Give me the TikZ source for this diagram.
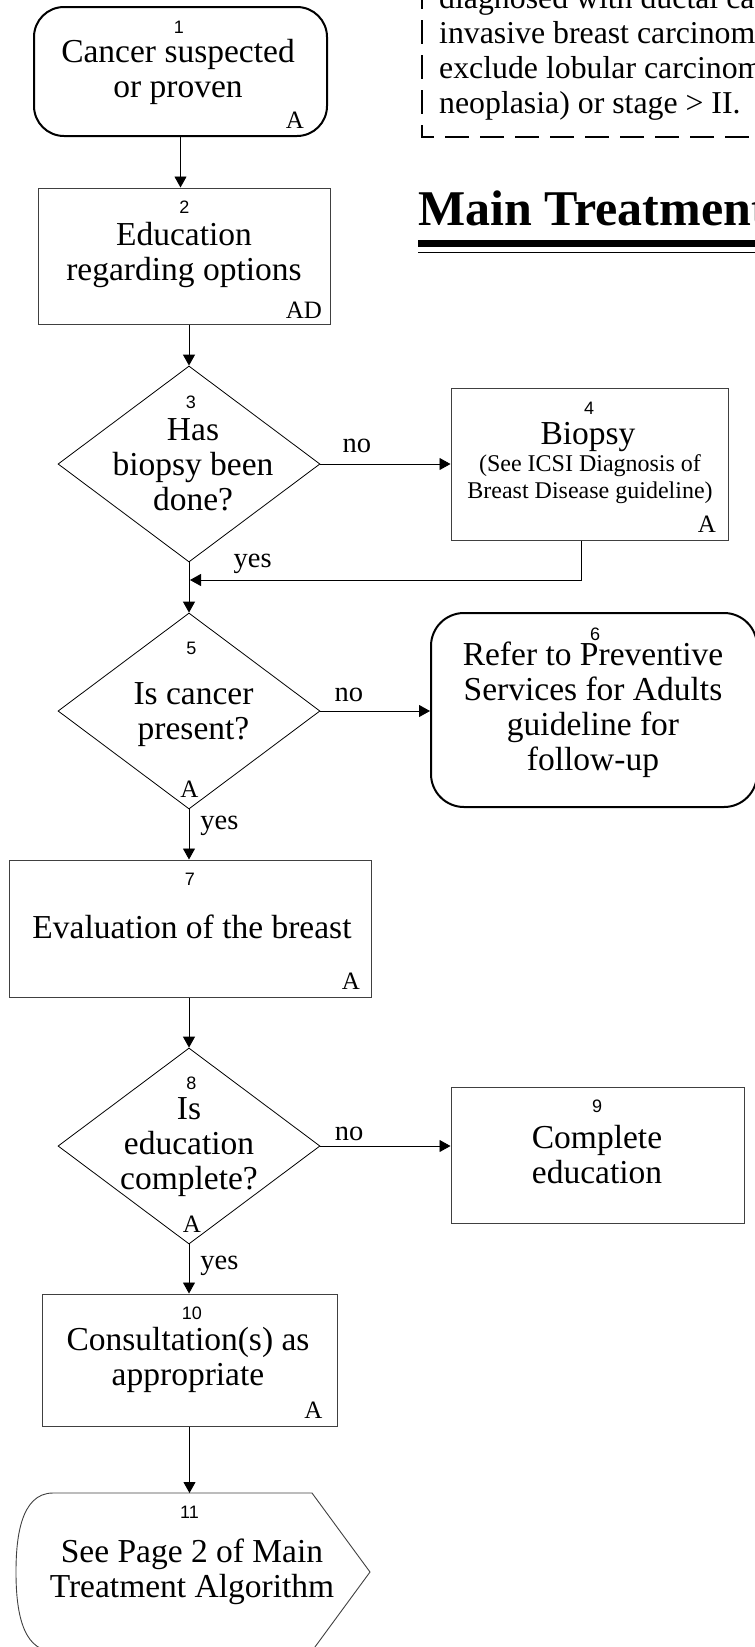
\documentclass[tikz,border=0pt]{standalone}
\usepackage{fontspec}
\setmainfont{Liberation Serif}
\setsansfont{Liberation Sans}
\usetikzlibrary{shapes.geometric}
\usetikzlibrary{arrows.meta}

\newcommand{\flowtext}{\fontsize{33.5}{35}\selectfont}
\newcommand{\flowsmall}{\fontsize{24}{27}\selectfont}
\newcommand{\flownum}{\sffamily\fontsize{18}{20}\selectfont}
\newcommand{\flowlab}{\fontsize{28.5}{30}\selectfont}
\newcommand{\flowcorner}{\fontsize{25}{28}\selectfont}
\newcommand{\flowtitle}{\bfseries\fontsize{50}{56}\selectfont}
\newcommand{\notesize}{\fontsize{31.8}{35}\selectfont}

\tikzset{
  terminal/.style={draw, line width=2pt, rectangle, rounded corners=30pt, inner sep=0pt},
  process/.style={draw=black!75, line width=1pt, rectangle, inner sep=0pt},
  decision/.style={draw, line width=0.8pt, diamond, inner sep=0pt, minimum width=262pt, minimum height=196pt},
  offpage/.style={draw=black!75, line width=0.9pt},
  bodytxt/.style={inner sep=0pt, align=center, font=\flowtext},
  smalltxt/.style={inner sep=0pt, align=center, font=\flowsmall},
  numtxt/.style={inner sep=0pt, font=\flownum},
  cornertxt/.style={inner sep=0pt, font=\flowcorner},
  labtxt/.style={inner sep=0pt, font=\flowlab},
  notetxt/.style={inner sep=0pt, align=left, font=\notesize},
  titletxt/.style={inner sep=0pt, font=\flowtitle},
  notebox/.style={line width=2pt, dash pattern=on 24pt off 11pt, dash phase=10pt},
  flowarrow/.style={line width=0.9pt, -{Triangle[length=11pt, width=12pt]}},
}

\begin{document}
\begin{tikzpicture}[x=1pt, y=-1pt]
    \useasboundingbox (0,0) rectangle (755,1647);
    \clip (0,0) rectangle (755,1647);

    % note and heading, top right
    \draw[notebox] (422,-40) -- (422,137) -- (790,137);
    \node(note) [notetxt, anchor=south west] at (439,121) {diagnosed with ductal ca\\invasive breast carcinom\\exclude lobular carcinom\\neoplasia) or stage > II.};

    \node(title) [titletxt, anchor=base west] at (418,225) {Main Treatment};
    \draw[line width=7pt] (418,243.5) -- (790,243.5);
    \draw[line width=1pt] (418,252) -- (790,252);

    % 1
    \node(b1) [terminal, minimum width=293pt, minimum height=129pt] at (180.5,71.5) {};
    \node(n1) [numtxt] at (179,27.5) {1};
    \node(t1) [bodytxt] at (178,71.5) {Cancer suspected\\or proven};
    \node(a1) [cornertxt] at (295,120) {A};

    % 2
    \node(b2) [process, minimum width=292pt, minimum height=136pt] at (184,256) {};
    \node(n2) [numtxt] at (184.5,207.5) {2};
    \node(t2) [bodytxt] at (184,254.5) {Education\\regarding options};
    \node(a2) [cornertxt] at (304,310) {AD};
    \draw[flowarrow] (b1.south) -- (b1.south |- b2.north);

    % 3
    \node(d3) [decision] at (189,464) {};
    \node(n3) [numtxt] at (191,402.5) {3};
    \node(t3) [bodytxt] at (193,465) {Has\\biopsy been\\done?};
    \draw[flowarrow] (d3.north |- b2.south) -- (d3.north);

    % 4
    \node(b4) [process, minimum width=277pt, minimum height=152pt] at (589.5,464) {};
    \node(n4) [numtxt] at (589,408.5) {4};
    \node(t4) [bodytxt] at (588,437) {Biopsy};
    \node(s4) [smalltxt] at (590,479.5) {(See ICSI Diagnosis of\\Breast Disease guideline)};
    \node(a4) [cornertxt] at (707,524.5) {A};
    \draw[flowarrow] (d3.east) -- (b4.west) node [labtxt, pos=0.28, above=11pt] {no};

    \coordinate(j3) at (190,580);
    \draw[flowarrow] ([xshift=-8pt]b4.south) |- (j3) node [labtxt, pos=0.92, above=6pt] {yes};

    % 5
    \node(d5) [decision] at (189,711) {};
    \node(n5) [numtxt] at (191.5,648.5) {5};
    \node(t5) [bodytxt] at (193.5,714.5) {Is cancer\\present?};
    \node(a5) [cornertxt] at (189.5,789.5) {A};
    \draw[flowarrow] (d3.south) -- (d5.north);

    % 6
    \node(b6) [terminal, rounded corners=33pt, minimum width=326pt, minimum height=194pt] at (594,710) {};
    \node(n6) [numtxt] at (595,634.5) {6};
    \node(t6) [bodytxt] at (593,710) {Refer to Preventive\\Services for Adults\\guideline for\\follow-up};
    \draw[flowarrow] (d5.east) -- (d5.east -| b6.west) node [labtxt, pos=0.26, above=9pt] {no};

    % 7
    \node(b7) [process, minimum width=362pt, minimum height=137pt] at (190,928.5) {};
    \node(n7) [numtxt] at (190,879.5) {7};
    \node(t7) [bodytxt] at (192,927) {Evaluation of the breast};
    \node(a7) [cornertxt] at (351,981.5) {A};
    \draw[flowarrow] (d5.south) -- (d5.south |- b7.north) node [labtxt, pos=0.32, right=11pt] {yes};

    % 8
    \node(d8) [decision] at (189,1146) {};
    \node(n8) [numtxt] at (191.5,1083) {8};
    \node(t8) [bodytxt] at (189,1147.5) {Is\\education\\complete?};
    \node(a8) [cornertxt] at (192,1224.5) {A};
    \draw[flowarrow] (d8.north |- b7.south) -- (d8.north);

    % 9
    \node(b9) [process, minimum width=293pt, minimum height=136pt] at (597.5,1155) {};
    \node(n9) [numtxt] at (597,1106.5) {9};
    \node(t9) [bodytxt] at (597,1155) {Complete\\education};
    \draw[flowarrow] (d8.east) -- (d8.east -| b9.west) node [labtxt, pos=0.22, above=5pt] {no};

    % 10
    \node(b10) [process, minimum width=295pt, minimum height=132pt] at (189.5,1360) {};
    \node(n10) [numtxt] at (192,1313) {10};
    \node(t10) [bodytxt] at (188,1359.5) {Consultation(s) as\\appropriate};
    \node(a10) [cornertxt] at (313.5,1410.5) {A};
    \draw[flowarrow] (d8.south) -- (d8.south |- b10.north) node [labtxt, pos=0.43, right=11pt] {yes};

    % 11
    \coordinate(c11) at (189.5,1493);
    \draw[offpage] (53,1493) -- (312,1493) -- (370,1572) -- (312,1651) -- (53,1651)
      .. controls (20,1651) and (16,1604) .. (16,1572)
      .. controls (16,1540) and (20,1493) .. (53,1493) -- cycle;
    \node(n11) [numtxt] at (189.5,1512) {11};
    \node(t11) [bodytxt] at (192,1571.5) {See Page 2 of Main\\Treatment Algorithm};
    \draw[flowarrow] (b10.south) -- (c11);
  \end{tikzpicture}
\end{document}
